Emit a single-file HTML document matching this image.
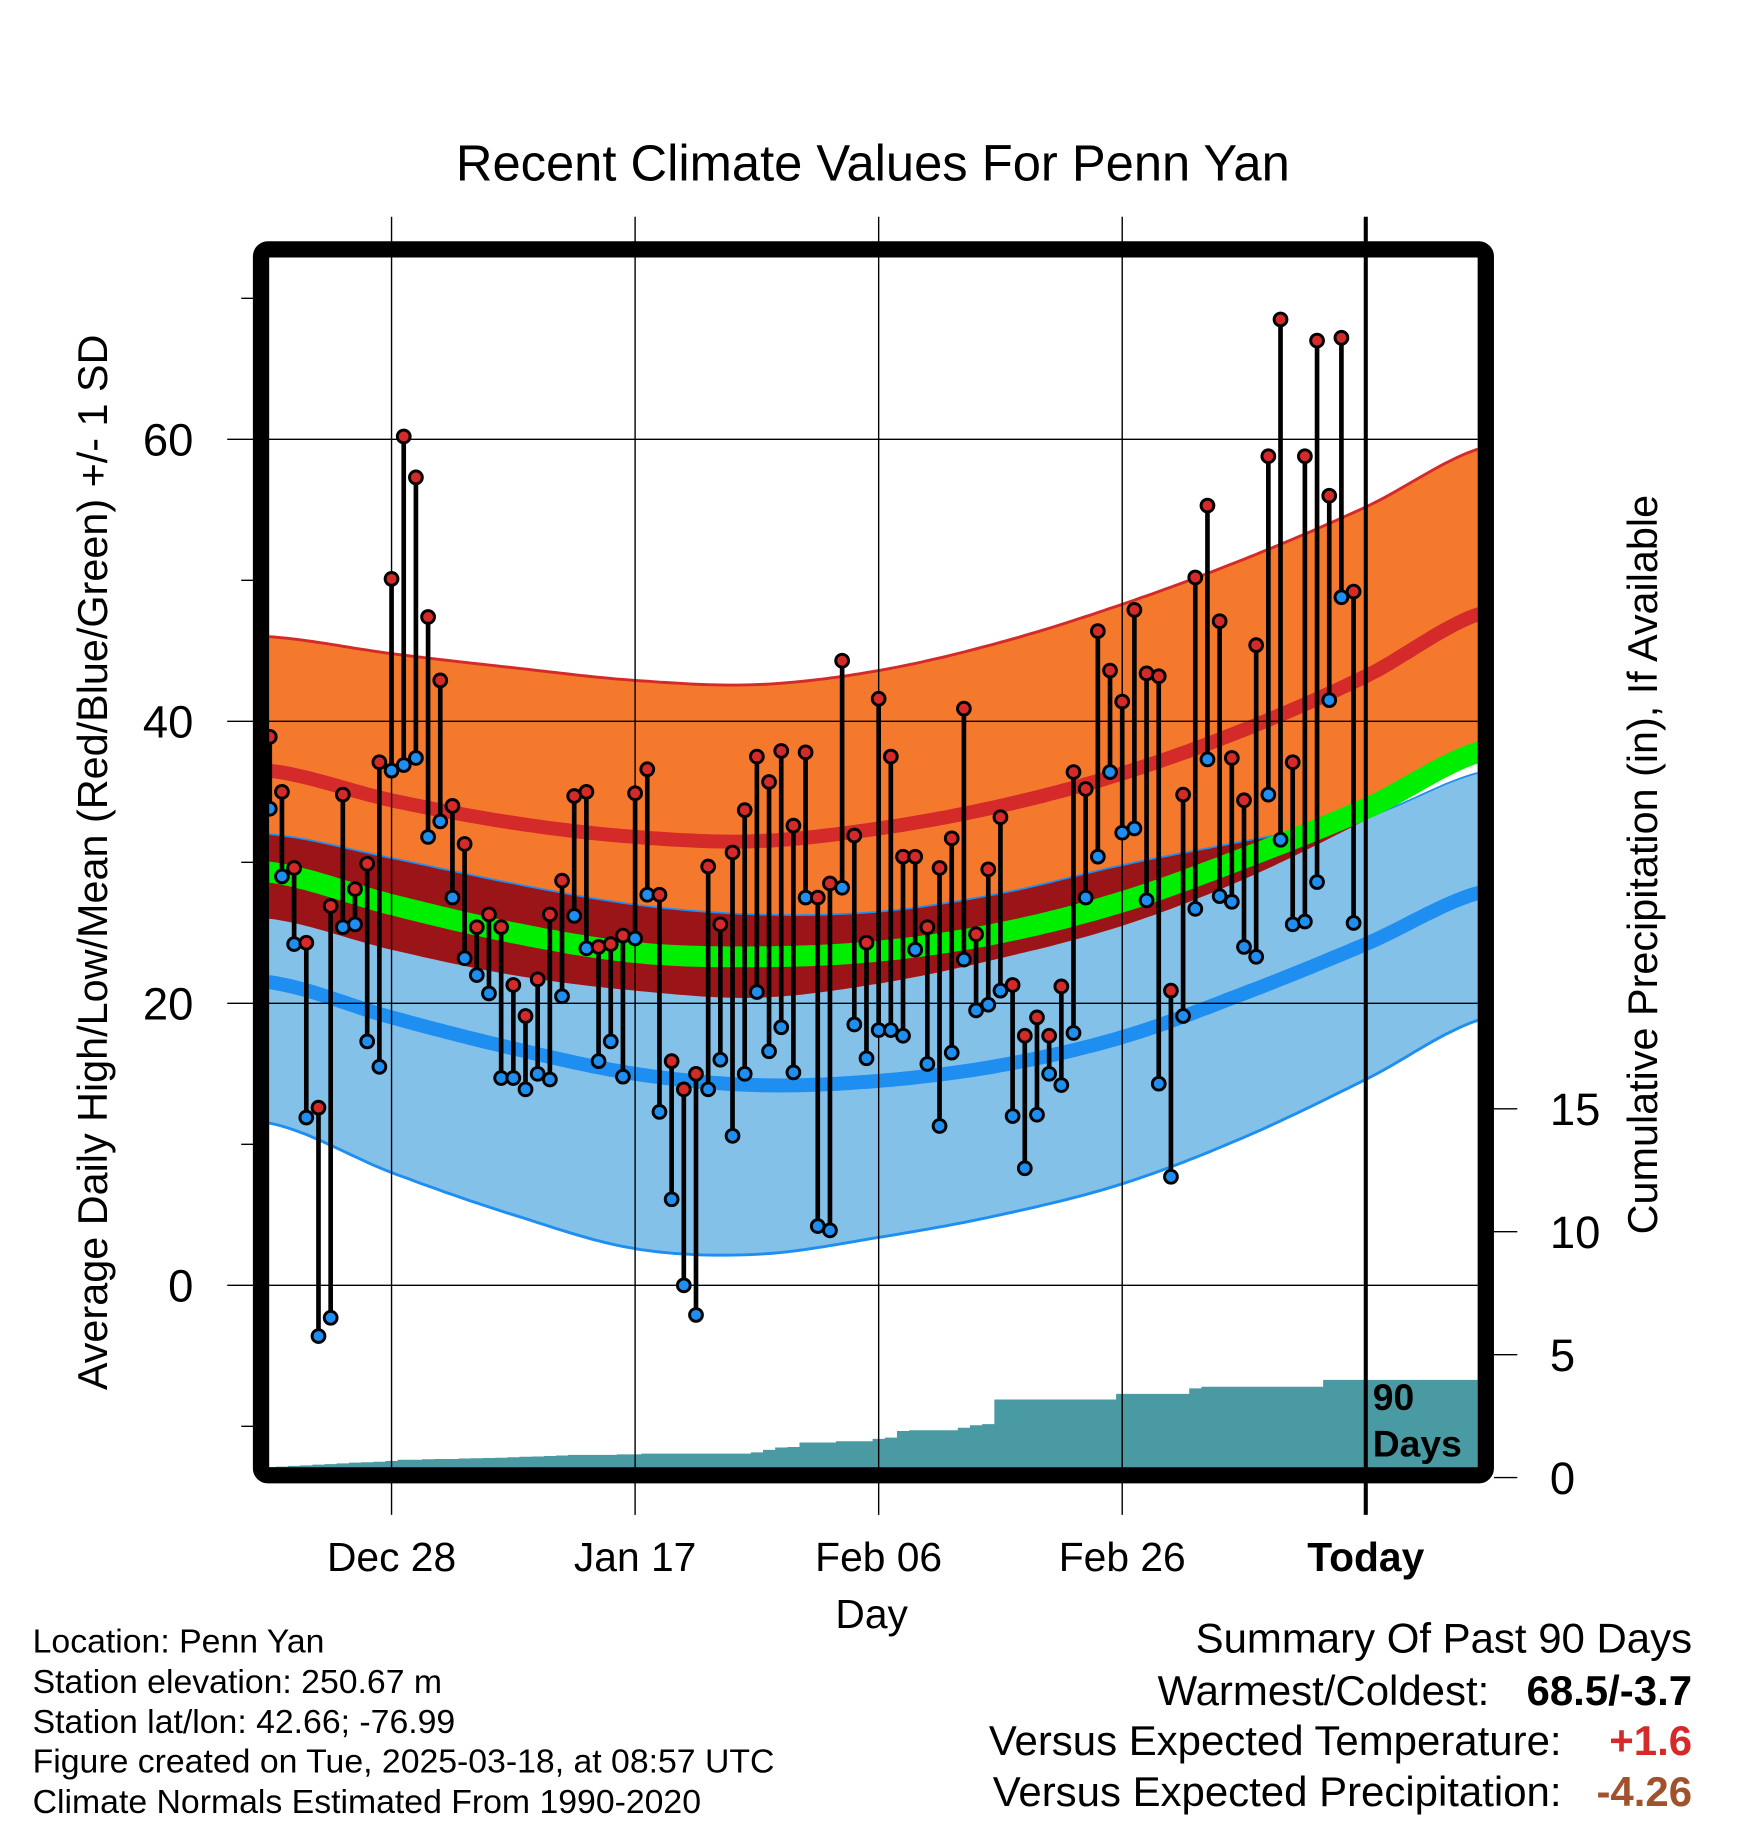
<!DOCTYPE html>
<html><head><meta charset="utf-8"><style>
html,body{margin:0;padding:0;background:#fff}
svg{display:block}
text{font-family:"Liberation Sans",sans-serif;fill:#000}
</style></head><body>
<svg id="chart" width="1748" height="1828" viewBox="0 0 1500 1568.7" preserveAspectRatio="none" xmlns="http://www.w3.org/2000/svg">
<defs><clipPath id="plotclip"><rect x="231" y="221" width="1037" height="1038"/></clipPath></defs>
<g id="bands" clip-path="url(#plotclip)"></g>
<g id="precip" clip-path="url(#plotclip)"></g>
<g id="grid"></g>
<g id="points"></g>
<rect x="224" y="214" width="1051" height="1052" rx="6" fill="none" stroke="#000" stroke-width="14"/>
<text x="749" y="155" font-size="43.5" text-anchor="middle">Recent Climate Values For Penn Yan</text>
<text transform="translate(92,740) rotate(-90)" font-size="35.5" text-anchor="middle">Average Daily High/Low/Mean (Red/Blue/Green) +/- 1 SD</text>
<text transform="translate(1422,742) rotate(-90)" font-size="35.5" text-anchor="middle">Cumulative Precipitation (in), If Available</text>
<text x="748" y="1397" font-size="35" text-anchor="middle">Day</text>
<text x="1178" y="1210" font-size="32" font-weight="bold">90</text>
<text x="1178" y="1250" font-size="32" font-weight="bold">Days</text>
<g font-size="29">
<text x="28" y="1418">Location: Penn Yan</text>
<text x="28" y="1453">Station elevation: 250.67 m</text>
<text x="28" y="1487">Station lat/lon: 42.66; -76.99</text>
<text x="28" y="1521">Figure created on Tue, 2025-03-18, at 08:57 UTC</text>
<text x="28" y="1556">Climate Normals Estimated From 1990-2020</text>
</g>
<g font-size="36" text-anchor="end">
<text x="1452" y="1418">Summary Of Past 90 Days</text>
<text x="1278" y="1463">Warmest/Coldest:</text>
<text x="1452" y="1463" font-weight="bold">68.5/-3.7</text>
<text x="1340" y="1506">Versus Expected Temperature:</text>
<text x="1452" y="1506" font-weight="bold" style="fill:#d42a2a">+1.6</text>
<text x="1340" y="1550">Versus Expected Precipitation:</text>
<text x="1452" y="1550" font-weight="bold" style="fill:#a0522d">-4.26</text>
</g>
</svg>
<script>
const anchorDays=[-90,-80,-70,-60,-50,-40,-30,-20,-10,0,10];
const highPlusSD=[46.0,44.8,43.8,42.9,42.6,43.6,45.6,48.3,51.5,55.2,59.5];
const meanHigh=[36.5,34.4,32.8,31.8,31.5,32.4,34.0,36.3,39.4,43.2,47.8];
const highMinusSD=[26.0,23.8,22.0,20.9,20.4,21.4,23.2,25.5,28.8,33.0,37.5];
const meanTemp=[29.3,27.0,25.0,23.6,23.3,23.7,25.0,27.2,30.3,33.8,38.0];
const lowPlusSD=[32.0,30.3,28.5,27.0,26.3,26.5,27.8,29.8,31.5,33.2,36.5];
const meanLow=[21.5,19.0,16.8,15.0,14.2,14.5,15.6,17.6,20.7,24.2,28.0];
const lowMinusSD=[11.5,8.0,5.0,2.6,2.2,3.4,5.0,7.2,10.5,14.6,19.0];
const dailyHigh=[38.9,35.0,29.6,24.3,12.6,26.9,34.8,28.1,29.9,37.1,50.1,60.2,57.3,47.4,42.9,34.0,31.3,25.4,26.3,25.4,21.3,19.1,21.7,26.3,28.7,34.7,35.0,24.0,24.2,24.8,34.9,36.6,27.7,15.9,13.9,15.0,29.7,25.6,30.7,33.7,37.5,35.7,37.9,32.6,37.8,27.5,28.5,44.3,31.9,24.3,41.6,37.5,30.4,30.4,25.4,29.6,31.7,40.9,24.9,29.5,33.2,21.3,17.7,19.0,17.7,21.2,36.4,35.2,46.4,43.6,41.4,47.9,43.4,43.2,20.9,34.8,50.2,55.3,47.1,37.4,34.4,45.4,58.8,68.5,37.1,58.8,67.0,56.0,67.2,49.2];
const dailyLow=[33.8,29.0,24.2,11.9,-3.6,-2.3,25.4,25.6,17.3,15.5,36.5,36.9,37.4,31.8,32.9,27.5,23.2,22.0,20.7,14.7,14.7,13.9,15.0,14.6,20.5,26.2,23.9,15.9,17.3,14.8,24.6,27.7,12.3,6.1,0.0,-2.1,13.9,16.0,10.6,15.0,20.8,16.6,18.3,15.1,27.5,4.2,3.9,28.2,18.5,16.1,18.1,18.1,17.7,23.8,15.7,11.3,16.5,23.1,19.5,19.9,20.9,12.0,8.3,12.1,15.0,14.2,17.9,27.5,30.4,36.4,32.1,32.4,27.3,14.3,7.7,19.1,26.7,37.3,27.6,27.2,24.0,23.3,34.8,31.6,25.6,25.8,28.6,41.5,48.8,25.7];
const cumPrecip=[0.0,0.02,0.05,0.07,0.1,0.12,0.15,0.18,0.2,0.22,0.25,0.3,0.3,0.32,0.33,0.33,0.35,0.36,0.37,0.38,0.4,0.42,0.43,0.45,0.47,0.5,0.5,0.5,0.5,0.52,0.52,0.55,0.55,0.55,0.55,0.55,0.55,0.55,0.55,0.55,0.6,0.7,0.8,0.82,1.0,1.0,1.0,1.05,1.05,1.05,1.15,1.2,1.47,1.5,1.5,1.5,1.5,1.6,1.7,1.75,2.75,2.75,2.75,2.75,2.75,2.75,2.75,2.75,2.75,2.75,2.98,2.98,2.98,2.98,2.98,2.98,3.2,3.27,3.27,3.27,3.27,3.27,3.27,3.27,3.27,3.27,3.27,3.55,3.55,3.55];
const xTickLabels=["Dec 28","Jan 17","Feb 06","Feb 26","Today"];
const xTickDays=[-80,-60,-40,-20,0];
const yTickLabels=["0","20","40","60"];
const yTickValues=[0,20,40,60];
const yMinorValues=[-10,10,30,50,70];
const precipTickValues=[0,5,10,15];

const NS="http://www.w3.org/2000/svg";
const xScale=d=>1172+d*10.45;
const yScale=v=>1103-v*12.1;
const pScale=p=>1259-p*21.1;
function mk(tag,attrs,parent){const e=document.createElementNS(NS,tag);for(const k in attrs)e.setAttribute(k,attrs[k]);parent.appendChild(e);return e;}
function curve(arr){const pts=[];for(let d=-92;d<=10;d+=0.5){let i=0;while(i<anchorDays.length-2&&d>anchorDays[i+1])i++;const t=(d-anchorDays[i])/(anchorDays[i+1]-anchorDays[i]);
 const p0=arr[Math.max(i-1,0)],p1=arr[i],p2=arr[i+1],p3=arr[Math.min(i+2,arr.length-1)];
 const v=0.5*((2*p1)+(-p0+p2)*t+(2*p0-5*p1+4*p2-p3)*t*t+(-p0+3*p1-3*p2+p3)*t*t*t);
 pts.push([xScale(d),yScale(v)]);}return pts;}
function bandPath(a,b){const A=curve(a),B=curve(b).reverse();return "M"+A.concat(B).map(p=>p[0].toFixed(1)+","+p[1].toFixed(1)).join("L")+"Z";}
function linePath(a){return "M"+curve(a).map(p=>p[0].toFixed(1)+","+p[1].toFixed(1)).join("L");}
const bands=document.getElementById('bands');
const defs=document.querySelector('defs');
const cp=mk('clipPath',{id:'blueclip'},defs);
mk('path',{d:bandPath(lowPlusSD,lowMinusSD)},cp);
let el;
el=mk('path',{d:bandPath(lowPlusSD,lowMinusSD),fill:'#84c1e8'},bands);


el=mk('path',{d:bandPath(highPlusSD,highMinusSD),fill:'#f5792d'},bands);


el=mk('path',{d:bandPath(highPlusSD,highMinusSD),fill:'#9a1418','clip-path':'url(#blueclip)'},bands);


el=mk('path',{d:linePath(highPlusSD),fill:'none',stroke:'#d42a2a','stroke-width':2.5},bands);


el=mk('path',{d:linePath(lowPlusSD),fill:'none',stroke:'#1e8ff0','stroke-width':1.5},bands);


el=mk('path',{d:linePath(lowMinusSD),fill:'none',stroke:'#1e8ff0','stroke-width':2.5},bands);


el=mk('path',{d:linePath(meanTemp),fill:'none',stroke:'#00ee00','stroke-width':18},bands);


el=mk('path',{d:linePath(meanHigh),fill:'none',stroke:'#d42a2a','stroke-width':12},bands);


el=mk('path',{d:linePath(meanLow),fill:'none',stroke:'#1e8ff0','stroke-width':12},bands);



const pg=document.getElementById('precip');
let d="M"+xScale(-90.2)+","+pScale(0);
cumPrecip.forEach((p,i)=>{const x0=xScale(-90+i-0.5),x1=xScale(-90+i+0.5);d+="L"+x0+","+pScale(p)+"L"+x1+","+pScale(p);});
d+="L1270,"+pScale(cumPrecip[cumPrecip.length-1])+"L1270,"+pScale(0)+"Z";
el=mk('path',{d:d,fill:'#4a9aa3'},pg);



const g=document.getElementById('grid');
yTickValues.forEach((v,i)=>{const y=yScale(v);
 el=mk('line',{x1:195,x2:1268,y1:y,y2:y,stroke:'#000','stroke-width':1.2},g);
 
 
 el=mk('text',{x:166,y:y+14,'font-size':39,'text-anchor':'end'},g);el.textContent=yTickLabels[i];
 
 });
yMinorValues.forEach(v=>{const y=yScale(v);
 el=mk('line',{x1:207,x2:220,y1:y,y2:y,stroke:'#000','stroke-width':1.2},g);
 
 });
xTickDays.forEach((dd,i)=>{const x=xScale(dd);
 el=mk('line',{x1:x,x2:x,y1:186,y2:1300,stroke:'#000','stroke-width':dd===0?3.5:1.2},g);
 
 
 el=mk('text',{x:x,y:1348,'font-size':35,'text-anchor':'middle','font-weight':dd===0?'bold':'normal'},g);el.textContent=xTickLabels[i];
 
 });
precipTickValues.forEach(p=>{const y=pScale(p)+9;
 el=mk('line',{x1:1282,x2:1302,y1:y,y2:y,stroke:'#000','stroke-width':1.2},g);
 
 
 el=mk('text',{x:1330,y:y+14,'font-size':39},g);el.textContent=String(p);
 
 });

const pts=document.getElementById('points');
dailyHigh.forEach((h,i)=>{const x=xScale(-90+i),l=dailyLow[i];
 el=mk('line',{x1:x,x2:x,y1:yScale(h),y2:yScale(l),stroke:'#000','stroke-width':4},pts);
 
 
 el=mk('circle',{cx:x,cy:yScale(l),r:5.5,fill:'#1e8ff0',stroke:'#000','stroke-width':2.5},pts);
 
 
 el=mk('circle',{cx:x,cy:yScale(h),r:5.5,fill:'#d42a2a',stroke:'#000','stroke-width':2.5},pts);
 
 });
</script>
</body></html>
